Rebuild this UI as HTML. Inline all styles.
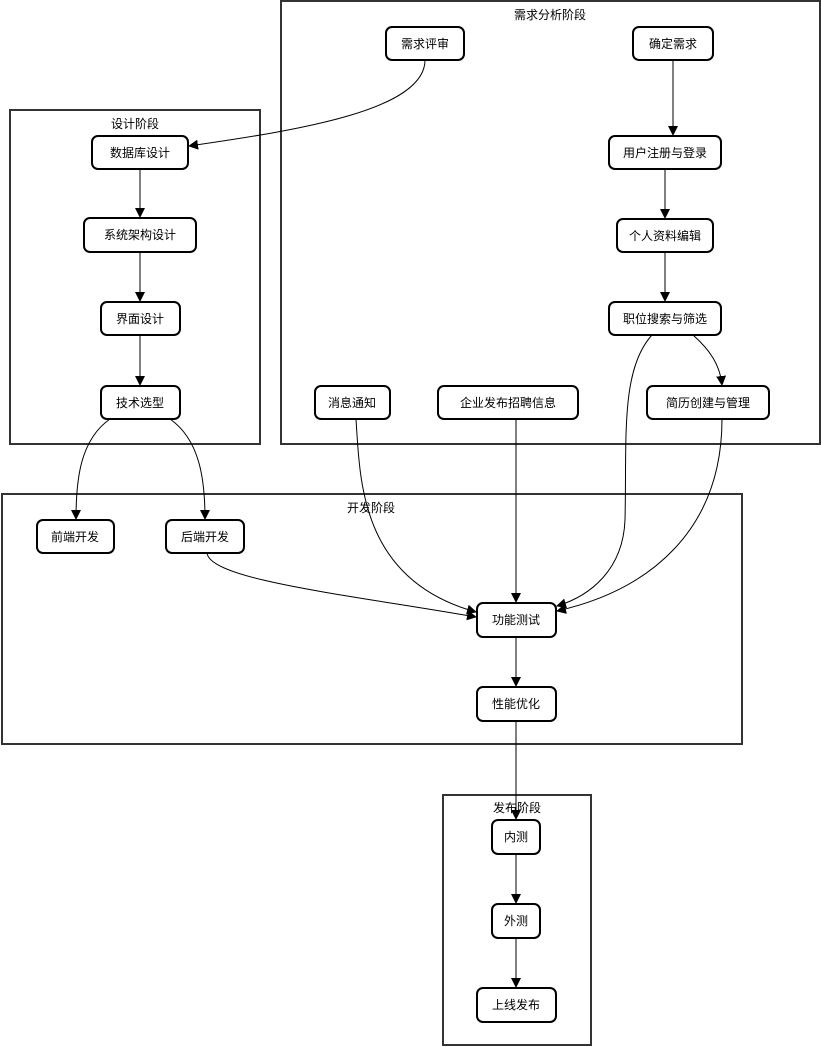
<!DOCTYPE html>
<html><head><meta charset="utf-8"><style>
html,body{margin:0;padding:0;background:#fff;width:821px;height:1047px;overflow:hidden}
svg text{font-family:"Liberation Sans","Noto Sans CJK SC",sans-serif;font-size:12px;fill:#000}
</style></head><body>
<svg width="821" height="1047" viewBox="0 0 821 1047" xmlns="http://www.w3.org/2000/svg">
<defs><marker id="a" markerWidth="10" markerHeight="10" refX="9" refY="5" orient="auto" markerUnits="userSpaceOnUse"><path d="M0,0 L10,5 L0,10 z" fill="#000"/></marker></defs>
<g fill="none" stroke="#333" stroke-width="2">
<rect x="281" y="1" width="539" height="443"/>
<rect x="10" y="110" width="250" height="334"/>
<rect x="2" y="494" width="740" height="250"/>
<rect x="443" y="795" width="148" height="250"/>
</g>
<g text-anchor="middle">
<text x="550" y="19">需求分析阶段</text>
<text x="135" y="128">设计阶段</text>
<text x="371" y="512">开发阶段</text>
<text x="517" y="812">发布阶段</text>
</g>
<g fill="none" stroke="#000" stroke-width="1" marker-end="url(#a)">
<path d="M425,60 C425,110 300,130 189,146"/>
<path d="M673,60 L673,135"/>
<path d="M665,169 L665,218"/>
<path d="M665,252 L665,301"/>
<path d="M140,169 L140,217"/>
<path d="M140,252 L140,301"/>
<path d="M140,335 L140,385"/>
<path d="M110,419 C80,440 76,480 76,519"/>
<path d="M170,419 C200,440 205,480 205,519"/>
<path d="M652,335 C620,370 627,440 625,520 C623,570 590,596 557,606"/>
<path d="M693,335 C710,350 720,365 722,385"/>
<path d="M356,419 C360,480 360,580 476,612"/>
<path d="M516,419 L516,602"/>
<path d="M722,419 C722,530 650,590 557,611"/>
<path d="M207,553 C210,580 350,595 476,617"/>
<path d="M516,637 L516,686"/>
<path d="M516,721 L516,819"/>
<path d="M516,854 L516,903"/>
<path d="M516,938 L516,987"/>
</g>
<g fill="#fff" stroke="#000" stroke-width="2">
<rect x="386" y="27" width="78" height="33" rx="6"/>
<rect x="633" y="27" width="80" height="33" rx="6"/>
<rect x="609" y="136" width="112" height="33" rx="6"/>
<rect x="617" y="219" width="96" height="33" rx="6"/>
<rect x="609" y="302" width="112" height="33" rx="6"/>
<rect x="315" y="386" width="75" height="33" rx="6"/>
<rect x="438" y="386" width="140" height="33" rx="6"/>
<rect x="647" y="386" width="122" height="33" rx="6"/>
<rect x="92" y="136" width="96" height="33" rx="6"/>
<rect x="84" y="218" width="112" height="34" rx="6"/>
<rect x="101" y="302" width="79" height="33" rx="6"/>
<rect x="101" y="386" width="79" height="33" rx="6"/>
<rect x="37" y="520" width="77" height="33" rx="6"/>
<rect x="166" y="520" width="78" height="33" rx="6"/>
<rect x="477" y="603" width="79" height="34" rx="6"/>
<rect x="477" y="687" width="79" height="34" rx="6"/>
<rect x="492" y="820" width="48" height="34" rx="6"/>
<rect x="492" y="904" width="48" height="34" rx="6"/>
<rect x="477" y="988" width="79" height="34" rx="6"/>
</g>
<g text-anchor="middle">
<text x="425" y="48">需求评审</text>
<text x="673" y="48">确定需求</text>
<text x="665" y="157">用户注册与登录</text>
<text x="665" y="240">个人资料编辑</text>
<text x="665" y="323">职位搜索与筛选</text>
<text x="352" y="407">消息通知</text>
<text x="508" y="407">企业发布招聘信息</text>
<text x="708" y="407">简历创建与管理</text>
<text x="140" y="157">数据库设计</text>
<text x="140" y="239">系统架构设计</text>
<text x="140" y="323">界面设计</text>
<text x="140" y="407">技术选型</text>
<text x="75" y="541">前端开发</text>
<text x="205" y="541">后端开发</text>
<text x="516" y="624">功能测试</text>
<text x="516" y="708">性能优化</text>
<text x="516" y="841">内测</text>
<text x="516" y="925">外测</text>
<text x="516" y="1009">上线发布</text>
</g>
</svg>
</body></html>
